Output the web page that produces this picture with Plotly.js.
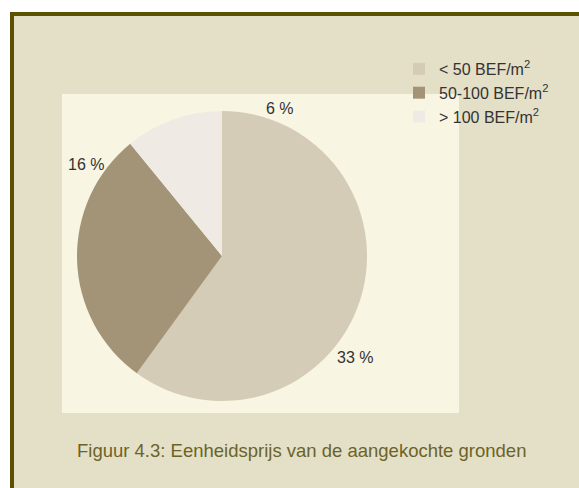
<!DOCTYPE html>
<html>
<head>
<meta charset="utf-8">
<script src="https://cdn.plot.ly/plotly-3.0.1.min.js"></script>
<style>
html,body{margin:0;padding:0;background:#ffffff;}
#chart{width:579px;height:488px;}
</style>
</head>
<body>
<div id="chart"></div>
<script>
// Data
var categories = ["&lt; 50 BEF/m<sup>2</sup>", "50-100 BEF/m<sup>2</sup>", "&gt; 100 BEF/m<sup>2</sup>"];
var values = [33, 16, 6];
var sliceColors = ["#d5ccb8", "#a49477", "#efebe4"];
var caption = "Figuur 4.3: Eenheidsprijs van de aangekochte gronden";

// label placement (pixel positions in the figure, as in the original)
var labelPos = [[355, 357], [86, 164], [280, 108.5]];

var W = 579, H = 488;
function px(x){return x / W;}
function py(y){return 1 - y / H;}

var font = "Liberation Sans, Arial, Helvetica, sans-serif";

var trace = {
  type: "pie",
  labels: categories,
  values: values,
  marker: {colors: sliceColors, line: {width: 0}},
  sort: false,
  direction: "clockwise",
  rotation: 0,
  textinfo: "none",
  hoverinfo: "label+value",
  domain: {x: [px(77), px(367)], y: [py(401), py(111)]}
};

var annotations = values.map(function(v, i){
  return {
    xref: "paper", yref: "paper",
    x: px(labelPos[i][0]), y: py(labelPos[i][1]),
    xanchor: "center", yanchor: "middle",
    text: v + " %", showarrow: false,
    font: {family: font, size: 16, color: "#333333"}
  };
});
annotations.push({
  xref: "paper", yref: "paper",
  x: px(301), y: py(450),
  xanchor: "center", yanchor: "middle",
  text: caption, showarrow: false,
  font: {family: font, size: 18.5, color: "#6b6428"}
});

var layout = {
  width: W, height: H,
  margin: {l: 0, r: 0, t: 0, b: 0},
  paper_bgcolor: "#ffffff",
  showlegend: true,
  legend: {
    x: px(399), y: py(52), xanchor: "left", yanchor: "top",
    bgcolor: "rgba(0,0,0,0)",
    font: {family: font, size: 16, color: "#333333"},
    tracegroupgap: 0
  },
  shapes: [
    {type: "rect", xref: "paper", yref: "paper", layer: "below",
     x0: px(10), x1: 1.01, y0: -0.01, y1: py(12),
     fillcolor: "#5b5100", line: {width: 0}},
    {type: "rect", xref: "paper", yref: "paper", layer: "below",
     x0: px(14), x1: 1.01, y0: -0.01, y1: py(16),
     fillcolor: "#e4dfc7", line: {width: 0}},
    {type: "rect", xref: "paper", yref: "paper", layer: "below",
     x0: px(62), x1: px(459), y0: py(413), y1: py(94),
     fillcolor: "#f8f5e3", line: {width: 0}}
  ],
  annotations: annotations
};

Plotly.newPlot("chart", [trace], layout, {displayModeBar: false, staticPlot: true});
</script>
</body>
</html>
